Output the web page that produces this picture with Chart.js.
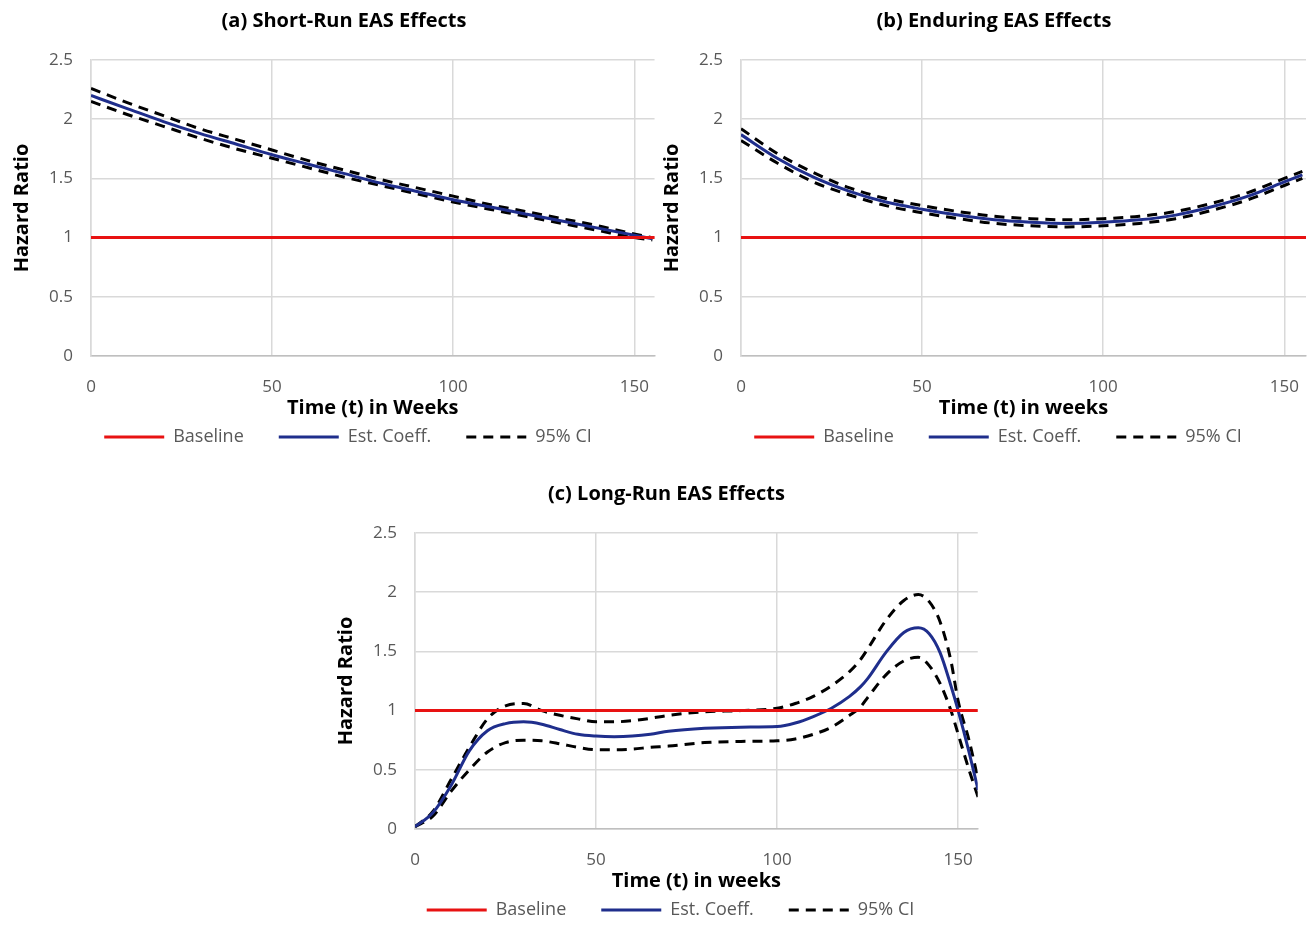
<!DOCTYPE html>
<html>
<head>
<meta charset="utf-8">
<script src="https://cdn.jsdelivr.net/npm/chart.js@4.4.1/dist/chart.umd.min.js"></script>
<style>
  body { margin: 0; background: #fff; width: 1310px; height: 926px; position: relative; overflow: hidden; }
  canvas { position: absolute; }
</style>
</head>
<body>
<canvas id="chartA" width="670" height="460" style="left:0;top:0;"></canvas>
<canvas id="chartB" width="670" height="460" style="left:650px;top:0;"></canvas>
<canvas id="chartC" width="670" height="460" style="left:324px;top:473px;"></canvas>
<script>
// weeks (x values)
const weeksAB = [0, 10, 20, 30, 40, 50, 60, 70, 80, 90, 100, 110, 120, 130, 140, 150, 155];
const weeksC = [0, 5, 10, 15, 20, 25, 30, 35, 40, 45, 50, 55, 60, 65, 70, 80, 90, 100, 105, 110, 115, 120, 123, 125, 130, 135, 139, 142, 145, 148, 150, 153, 155.5];
const baselineWeeks = [0, 156];
const baselineValues = [1, 1];

// (a) Short-Run
const estA = [2.20, 2.09, 1.98, 1.88, 1.79, 1.70, 1.62, 1.54, 1.46, 1.39, 1.32, 1.26, 1.20, 1.14, 1.08, 1.02, 0.99];
const upperA = [2.26, 2.14, 2.03, 1.92, 1.83, 1.74, 1.65, 1.57, 1.49, 1.42, 1.35, 1.28, 1.22, 1.16, 1.10, 1.03, 1.00];
const lowerA = [2.15, 2.04, 1.94, 1.84, 1.75, 1.67, 1.59, 1.51, 1.44, 1.37, 1.30, 1.24, 1.18, 1.12, 1.06, 1.00, 0.98];

// (b) Enduring
const estB = [1.87, 1.67, 1.51, 1.39, 1.30, 1.24, 1.19, 1.15, 1.13, 1.12, 1.13, 1.15, 1.19, 1.26, 1.35, 1.47, 1.53];
const upperB = [1.92, 1.71, 1.55, 1.42, 1.33, 1.27, 1.22, 1.18, 1.16, 1.15, 1.16, 1.18, 1.22, 1.29, 1.38, 1.50, 1.56];
const lowerB = [1.82, 1.63, 1.47, 1.36, 1.27, 1.21, 1.16, 1.12, 1.10, 1.09, 1.10, 1.12, 1.16, 1.23, 1.32, 1.44, 1.50];

// (c) Long-Run
const estC = [0.02, 0.14, 0.37, 0.66, 0.83, 0.89, 0.905, 0.885, 0.84, 0.80, 0.785, 0.78, 0.785, 0.80, 0.825, 0.85, 0.86, 0.865, 0.895, 0.95, 1.02, 1.12, 1.20, 1.27, 1.49, 1.66, 1.70, 1.65, 1.49, 1.21, 1.00, 0.65, 0.33];
const upperC = [0.02, 0.15, 0.42, 0.69, 0.93, 1.04, 1.06, 1.00, 0.96, 0.93, 0.905, 0.905, 0.915, 0.935, 0.96, 0.99, 1.00, 1.02, 1.06, 1.12, 1.21, 1.33, 1.43, 1.52, 1.76, 1.93, 1.98, 1.92, 1.75, 1.42, 1.08, 0.75, 0.42];
const lowerC = [0.02, 0.11, 0.32, 0.50, 0.65, 0.73, 0.75, 0.745, 0.72, 0.69, 0.67, 0.67, 0.675, 0.69, 0.70, 0.73, 0.74, 0.745, 0.76, 0.80, 0.86, 0.96, 1.03, 1.11, 1.30, 1.42, 1.45, 1.38, 1.23, 1.00, 0.80, 0.50, 0.27];

const yTicks = [0, 0.5, 1, 1.5, 2, 2.5];
const xTicks = [0, 50, 100, 150];

const FONT = '"Open Sans", "Noto Sans", sans-serif';
const pts = (xs, ys) => xs.map((x, i) => ({ x: x, y: ys[i] }));

// nudge title and legend a little right, like the original layout
const shiftBlocks = {
    id: 'shiftBlocks',
    afterLayout(chart) {
        chart.titleBlock.left += 11; chart.titleBlock.right += 11;
        chart.legend.left += 15; chart.legend.right += 15;
    }
};

function drawPanel(id, title, xTitle, weeks, est, upper, lower, xMax, padRight) {
    const ctx = document.getElementById(id).getContext('2d');
    new Chart(ctx, {
        type: 'line',
        data: {
            datasets: [
                { label: 'Baseline', data: pts(baselineWeeks, baselineValues), borderColor: '#e81212', borderWidth: 3 },
                { label: 'Est. Coeff.', data: pts(weeks, est), borderColor: '#1f2e8c', borderWidth: 3, cubicInterpolationMode: 'monotone' },
                { label: '95% CI', data: pts(weeks, upper), borderColor: '#000', borderWidth: 3, borderDash: [10, 7], cubicInterpolationMode: 'monotone' },
                { label: '95% CI lower', data: pts(weeks, lower), borderColor: '#000', borderWidth: 3, borderDash: [10, 7], cubicInterpolationMode: 'monotone' }
            ]
        },
        options: {
            responsive: false,
            animation: false,
            devicePixelRatio: 1,
            elements: { point: { radius: 0 } },
            layout: { padding: { left: 0, right: padRight, top: 0, bottom: 4 } },
            plugins: {
                tooltip: { enabled: false },
                title: {
                    display: true, text: title, color: '#000',
                    font: { family: FONT, size: 20, weight: 'bold' },
                    padding: { top: 9, bottom: 27 }
                },
                legend: {
                    position: 'bottom',
                    labels: {
                        usePointStyle: true,
                        pointStyle: 'line',
                        pointStyleWidth: 60,
                        padding: 8,
                        color: '#595959',
                        font: { family: FONT, size: 18 },
                        generateLabels: (chart) => {
                            const items = Chart.defaults.plugins.legend.labels.generateLabels(chart);
                            return items.filter(it => it.datasetIndex !== 3).map((it, k) => {
                                const ds = chart.data.datasets[it.datasetIndex];
                                it.lineDash = ds.borderDash || [];
                                it.lineWidth = ds.borderWidth;
                                it.strokeStyle = ds.borderColor;
                                if (k < 2) it.text += '\u2003\u2002';
                                return it;
                            });
                        }
                    }
                }
            },
            scales: {
                x: {
                    type: 'linear', min: 0, max: xMax,
                    afterFit: s => { s.height = 64; },
                    afterBuildTicks: s => { s.ticks = xTicks.map(v => ({ value: v })); },
                    ticks: { color: '#595959', font: { family: FONT, size: 17 }, padding: 21, maxRotation: 0, callback: v => v },
                    grid: { color: '#d9d9d9', lineWidth: 1.5, drawTicks: false },
                    border: { color: '#bfbfbf', width: 1.5 },
                    title: { display: true, text: xTitle, color: '#000', font: { family: FONT, size: 20, weight: 'bold' }, padding: 0 }
                },
                y: {
                    min: 0, max: 2.5,
                    afterFit: s => { s.width = 91; },
                    afterBuildTicks: s => { s.ticks = yTicks.map(v => ({ value: v })); },
                    ticks: { color: '#595959', font: { family: FONT, size: 17 }, padding: 18, callback: v => v },
                    grid: { color: '#d9d9d9', lineWidth: 1.5, drawTicks: false },
                    border: { color: '#d9d9d9', width: 1.5 },
                    title: { display: true, text: 'Hazard Ratio', color: '#000', font: { family: FONT, size: 20, weight: 'bold' }, padding: { top: 10, bottom: 0 } }
                }
            }
        },
        plugins: [shiftBlocks]
    });
}

drawPanel('chartA', '(a) Short-Run EAS Effects', 'Time (t) in Weeks', weeksAB, estA, upperA, lowerA, 155.6, 4);
drawPanel('chartB', '(b) Enduring EAS Effects', 'Time (t) in weeks', weeksAB, estB, upperB, lowerB, 156, 4);
drawPanel('chartC', '(c) Long-Run EAS Effects', 'Time (t) in weeks', weeksC, estC, upperC, lowerC, 155.4, 7);
</script>
</body>
</html>
